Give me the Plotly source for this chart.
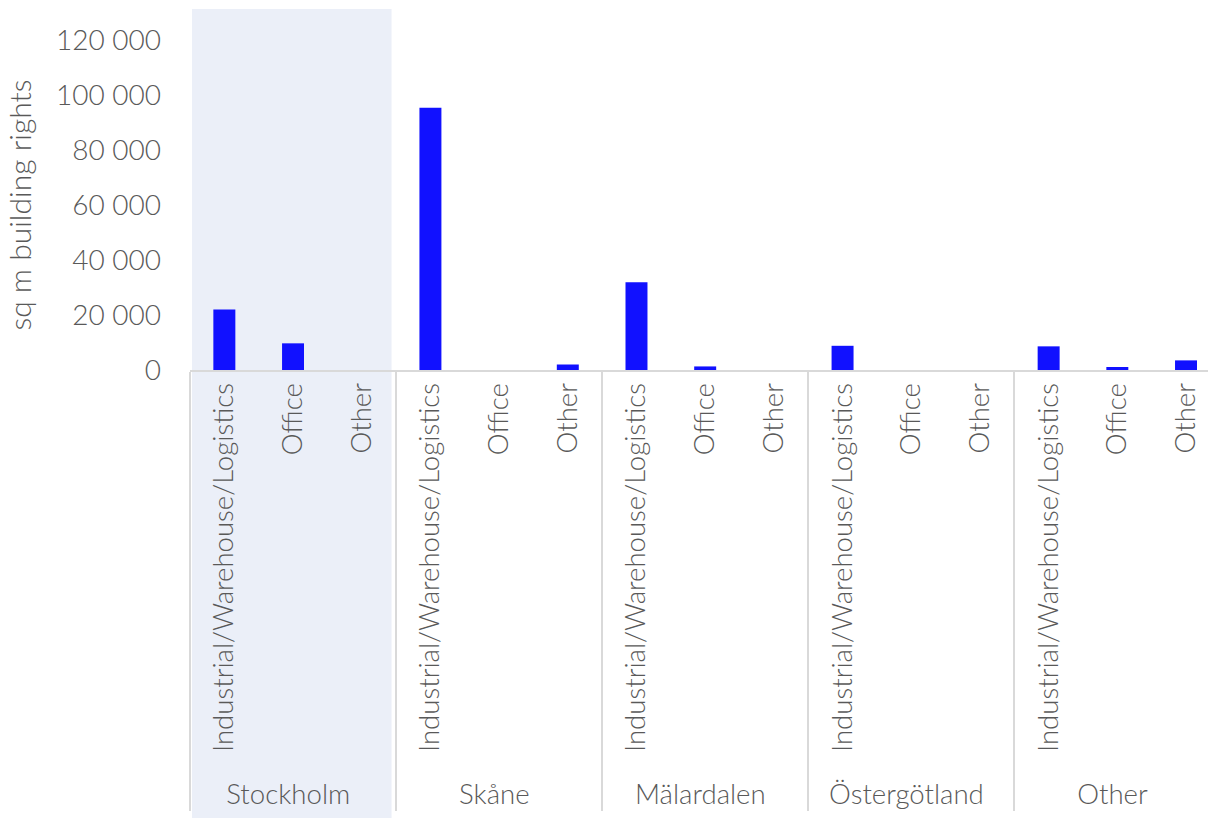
import plotly.graph_objects as go

regions = ["Stockholm", "Skåne", "Mälardalen", "Östergötland", "Other"]
types = ["Industrial/Warehouse/Logistics", "Office", "Other"]

# sq m building rights per region, in the order of `types`
stockholm = [22000, 9700, 0]
skane = [95400, 0, 2000]
malardalen = [31900, 1300, 0]
ostergotland = [8800, 0, 0]
other_region = [8600, 1100, 3500]

values = stockholm + skane + malardalen + ostergotland + other_region
outer = [r for r in regions for _ in types]
inner = types * len(regions)

y_ticks = [0, 20000, 40000, 60000, 80000, 100000, 120000]

GREY = "#595959"
LINE = "#d9d9d9"
FONT = "Lato"
WEIGHT = 300

fig = go.Figure(
    go.Bar(
        x=[outer, inner],
        y=values,
        marker=dict(color="#1111ff", line=dict(width=0)),
        width=0.32,
    )
)

# shaded band behind the Stockholm group
fig.add_shape(
    type="rect",
    xref="paper",
    yref="paper",
    x0=0.002,
    x1=0.198,
    y0=-2.0,
    y1=1.094,
    fillcolor="#ebeff8",
    line=dict(width=0),
    layer="below",
)

fig.update_layout(
    width=1208,
    height=818,
    margin=dict(l=190, r=0, t=40, b=448),
    paper_bgcolor="white",
    plot_bgcolor="rgba(0,0,0,0)",
    separators=". ",
    showlegend=False,
    font=dict(family=FONT, color=GREY, weight=WEIGHT),
)

fig.update_xaxes(
    type="multicategory",
    range=[-0.5, 14.32],
    tickangle=-90,
    tickfont=dict(family=FONT, size=27.6, color=GREY, weight=WEIGHT),
    showline=True,
    linecolor=LINE,
    linewidth=2,
    showgrid=False,
    ticks="",
    showdividers=True,
    dividercolor=LINE,
    dividerwidth=2,
)

fig.update_yaxes(
    range=[0, 120000],
    tickvals=y_ticks,
    tickformat=",d",
    tickfont=dict(family=FONT, size=28, color=GREY, weight=WEIGHT),
    showgrid=False,
    zeroline=False,
    showline=False,
    ticks="",
    ticklabelstandoff=28,
    title=dict(
        text="sq m building rights",
        font=dict(family=FONT, size=30, color=GREY, weight=WEIGHT),
    ),
)

fig.write_html("out.html")
